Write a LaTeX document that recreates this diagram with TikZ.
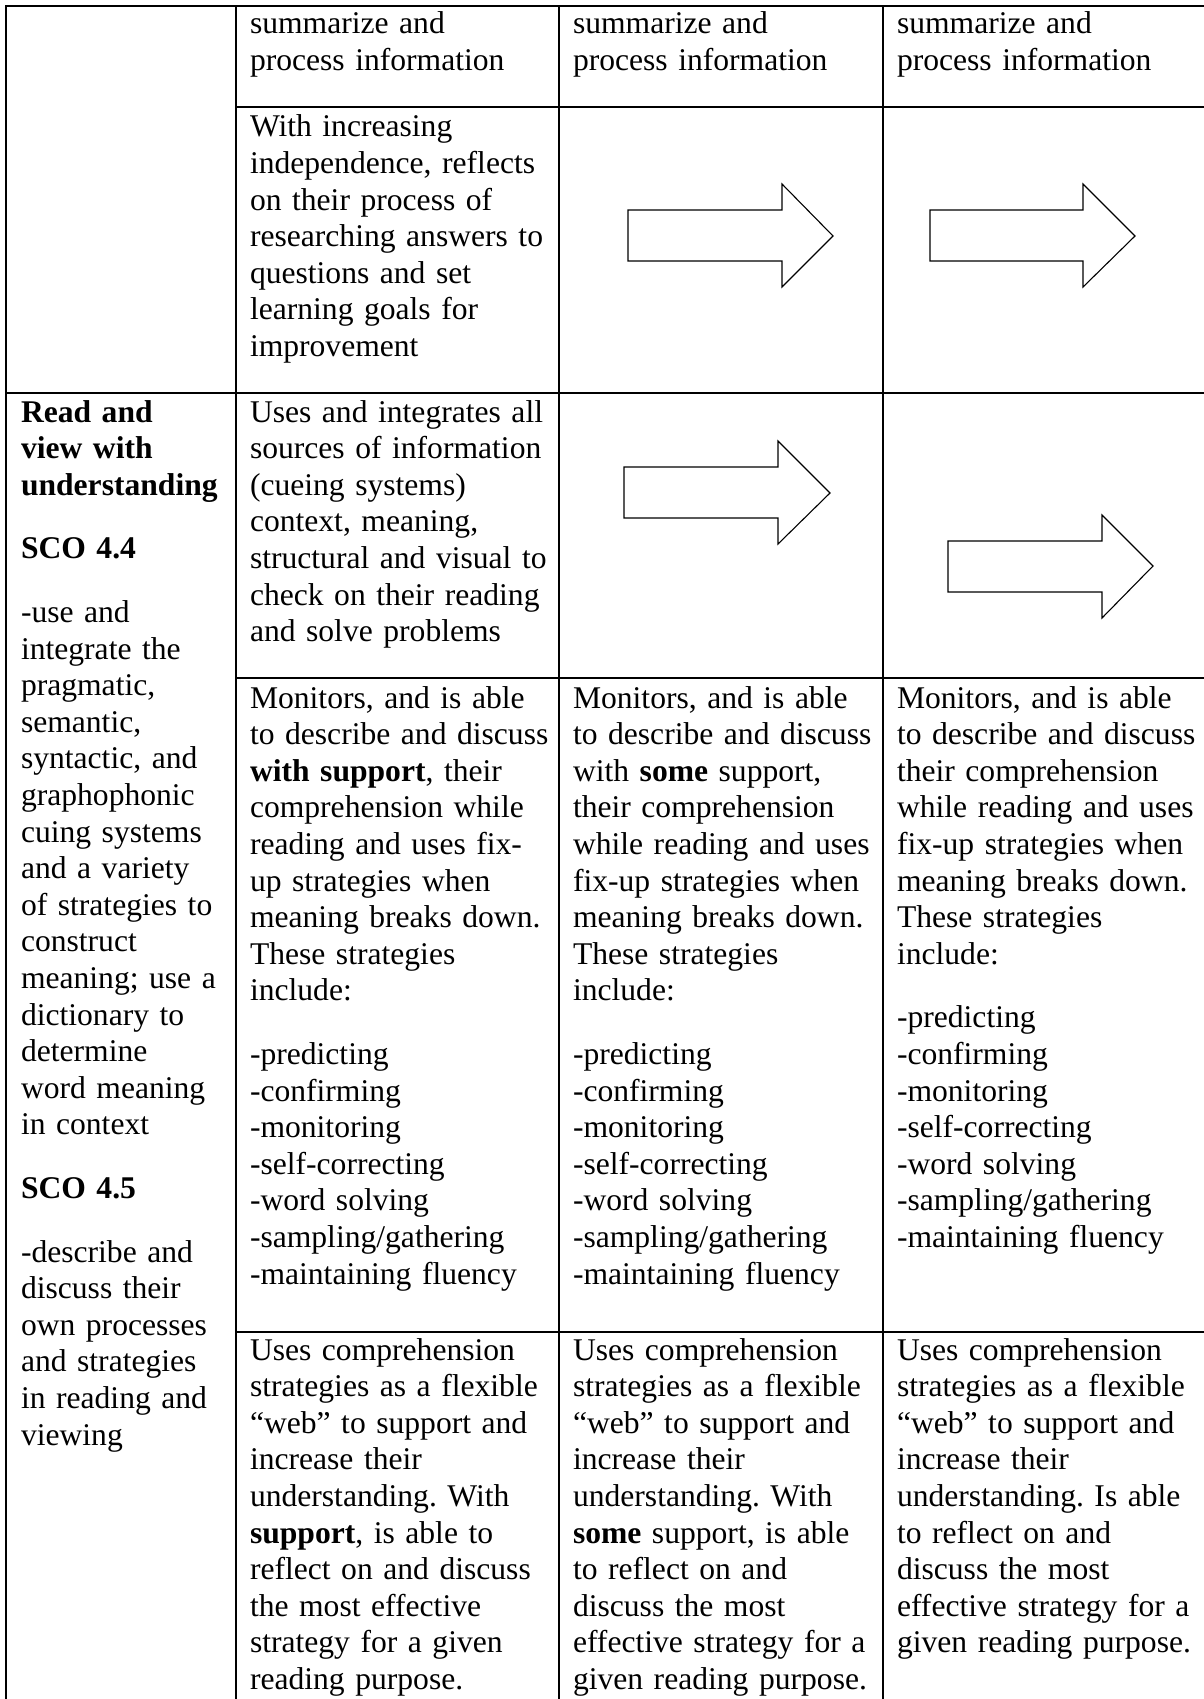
\documentclass[tikz,border=0pt]{standalone}
\usepackage{fontspec}
\setmainfont{Liberation Serif}
\begin{document}
\frenchspacing
\begin{tikzpicture}[x=1pt,y=-1pt,
  grid/.style={line width=1.6pt, line cap=rect},
  cell/.style={anchor=base west, inner sep=0pt, outer sep=0pt, align=left,
    text width=#1, font=\fontsize{31.6}{36.6}\selectfont\frenchspacing},
  cell/.default=320pt,
  fatarrow/.style={draw, line width=1.1pt, fill=white, line join=miter}]
\useasboundingbox (0,0) rectangle (1204,1699);
% table grid
\draw[grid] (6,6) -- (1204,6);
\draw[grid] (6,6) -- (6,1699);
\draw[grid] (236,6) -- (236,1699);
\draw[grid] (559,6) -- (559,1699);
\draw[grid] (883,6) -- (883,1699);
\draw[grid] (236,107) -- (1204,107);
\draw[grid] (6,393) -- (1204,393);
\draw[grid] (236,678) -- (1204,678);
\draw[grid] (236,1332) -- (1204,1332);
% block arrows
\draw[fatarrow] (628,210) -- (782,210) -- (782,184) -- (833,236) -- (782,287) -- (782,261) -- (628,261) -- cycle;
\draw[fatarrow] (930,210) -- (1083,210) -- (1083,184) -- (1135,236) -- (1083,287) -- (1083,261) -- (930,261) -- cycle;
\draw[fatarrow] (624,467) -- (778,467) -- (778,441) -- (830,493) -- (778,544) -- (778,518) -- (624,518) -- cycle;
\draw[fatarrow] (948,541) -- (1102,541) -- (1102,515) -- (1153,566) -- (1102,618) -- (1102,592) -- (948,592) -- cycle;
% header row
\node[cell] (h2) at (250,34) {summarize and\\process information};
\node[cell] (h3) at (573,34) {summarize and\\process information};
\node[cell] (h4) at (897,34) {summarize and\\process information};
% row 2
\node[cell] (r2c2) at (250,137) {With increasing\\independence, reflects\\on their process of\\researching answers to\\questions and set\\learning goals for\\improvement};
% column 1
\node[cell=215pt] (r3c1) at (21,422) {\textbf{Read and}\\\textbf{view with}\\\textbf{understanding}\\[27pt]\textbf{SCO 4.4}\\[27pt]-use and\\integrate the\\pragmatic,\\semantic,\\syntactic, and\\graphophonic\\cuing systems\\and a variety\\of strategies to\\construct\\meaning; use a\\dictionary to\\determine\\word meaning\\in context\\[27pt]\textbf{SCO 4.5}\\[27pt]-describe and\\discuss their\\own processes\\and strategies\\in reading and\\viewing};
% row 3
\node[cell] (r3c2) at (250,422) {Uses and integrates all\\sources of information\\(cueing systems)\\context, meaning,\\structural and visual to\\check on their reading\\and solve problems};
% row 4
\node[cell] (r4c2) at (250,708) {Monitors, and is able\\to describe and discuss\\\textbf{with support}, their\\comprehension while\\reading and uses fix-\\up strategies when\\meaning breaks down.\\These strategies\\include:\\[27pt]-predicting\\-confirming\\-monitoring\\-self-correcting\\-word solving\\-sampling/gathering\\-maintaining fluency};
\node[cell] (r4c3) at (573,708) {Monitors, and is able\\to describe and discuss\\with \textbf{some} support,\\their comprehension\\while reading and uses\\fix-up strategies when\\meaning breaks down.\\These strategies\\include:\\[27pt]-predicting\\-confirming\\-monitoring\\-self-correcting\\-word solving\\-sampling/gathering\\-maintaining fluency};
\node[cell] (r4c4) at (897,708) {Monitors, and is able\\to describe and discuss\\their comprehension\\while reading and uses\\fix-up strategies when\\meaning breaks down.\\These strategies\\include:\\[27pt]-predicting\\-confirming\\-monitoring\\-self-correcting\\-word solving\\-sampling/gathering\\-maintaining fluency};
% row 5
\node[cell] (r5c2) at (250,1360) {Uses comprehension\\strategies as a flexible\\“web” to support and\\increase their\\understanding. With\\\textbf{support}, is able to\\reflect on and discuss\\the most effective\\strategy for a given\\reading purpose.};
\node[cell] (r5c3) at (573,1360) {Uses comprehension\\strategies as a flexible\\“web” to support and\\increase their\\understanding. With\\\textbf{some} support, is able\\to reflect on and\\discuss the most\\effective strategy for a\\given reading purpose.};
\node[cell] (r5c4) at (897,1360) {Uses comprehension\\strategies as a flexible\\“web” to support and\\increase their\\understanding. Is able\\to reflect on and\\discuss the most\\effective strategy for a\\given reading purpose.};
\end{tikzpicture}
\end{document}
